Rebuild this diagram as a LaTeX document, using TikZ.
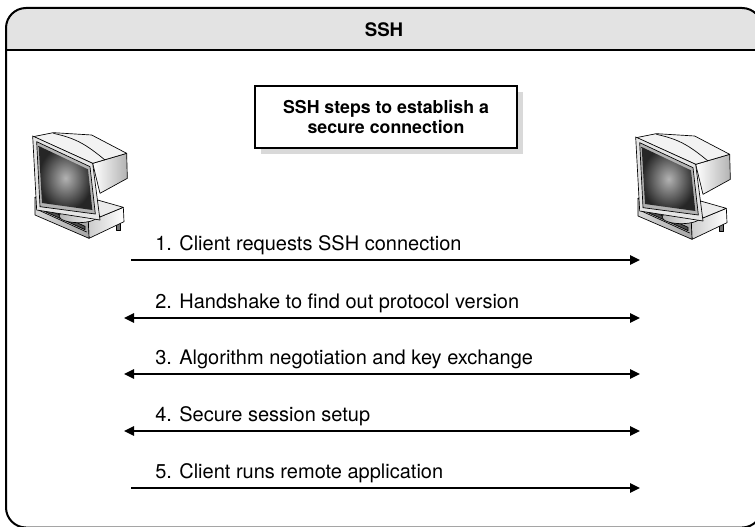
\documentclass[tikz,border=0pt]{standalone}
\usepackage{fontspec}
\setmainfont{TeX Gyre Heros}
\usetikzlibrary{arrows.meta,shadows}

\begin{document}
\begin{tikzpicture}[x=0.75pt, y=-0.75pt, >={Triangle[length=7.5pt,width=7pt]},
  cadre/.style={line width=1.5pt, rounded corners=15pt},
  titre/.style={draw=black, line width=1.5pt, fill=white, align=center,
    font=\bfseries\fontsize{13.3}{15.5}\selectfont,
    minimum width=196pt, minimum height=47pt,
    general shadow={fill=black!15, shadow xshift=4.5pt, shadow yshift=-4.5pt}},
  fleche/.style={line width=1.3pt},
  etiquette/.style={anchor=base west, inner sep=0pt, font=\fontsize{15}{17}\selectfont},
  ordi/.pic={
    \begin{scope}[x=0.25pt, y=-0.25pt, line width=0.5pt, line join=round]
    % le boîtier
    \filldraw[fill=black!55] (290,340) rectangle (302,362);
    \shadedraw[left color=black!20, right color=white] (205,335) -- (310,292) -- (312,335) -- (207,385) -- cycle;
    \filldraw[fill=black!8] (45,262) -- (120,238) -- (310,292) -- (205,335) -- cycle;
    \shadedraw[left color=black!15, right color=black!35] (45,262) -- (205,335) -- (207,385) -- (45,315) -- cycle;
    \filldraw[fill=black!70] (60,288) -- (122,316) -- (122,326) -- (60,298) -- cycle;
    \filldraw[fill=black!70] (132,320) -- (195,349) -- (195,359) -- (132,330) -- cycle;
    \draw (55,300) -- (200,366);
    % le pied
    \shadedraw[left color=black!30, right color=white] (175,318) ellipse [x radius=58, y radius=20];
    % le moniteur
    \shadedraw[left color=white, right color=black!30] (218,160) -- (320,130) -- (322,205) -- (240,250) -- cycle;
    \filldraw[fill=black!5] (40,80) -- (100,68) -- (215,75) -- (320,130) -- (218,160) -- cycle;
    \draw (100,70) .. controls (170,85) and (200,105) .. (255,150);
    \filldraw[fill=black!10] (38,78) -- (218,160) -- (240,330) -- (50,300) -- cycle;
    \filldraw[fill=black!30] (50,95) -- (210,170) -- (226,312) -- (60,290) -- cycle;
    \shade[inner color=black!30, outer color=black!85] (56,108) -- (204,178) -- (217,300) -- (66,279) -- cycle;
    \end{scope}
  }]

\useasboundingbox (0,0) rectangle (755,527);
\clip (0,0) rectangle (755,527);

% Le cadre et son bandeau
\fill[black!11] (6,50) [rounded corners=15pt] -- (6,8) -- (762,8) [sharp corners] -- (762,50) -- cycle;
\draw[cadre] (6,8) rectangle (762,527.5);
\draw[line width=1.5pt] (6,50) -- (762,50);
\node[font=\bfseries\fontsize{14}{16}\selectfont] (entete) at (384,30) {SSH};

% Le titre
\node[titre] (etapes) at (386,117) {SSH steps to establish a\\secure connection};

% Les deux postes
\pic (client) at (20,110) {ordi};
\pic (serveur) at (623,111) {ordi};

% Les extrémités des flèches
\foreach \i/\x/\y in {1/131/260,2/124/318,3/124/374,4/124/431,5/131/488} {
  \coordinate (g\i) at (\x,\y);
  \coordinate (d\i) at (640,\y);
}

% Les flèches
\draw[fleche, ->] (g1) -- (d1);
\foreach \i in {2,3,4}
\draw[fleche, <->] (g\i) -- (d\i);
\draw[fleche, ->] (g5) -- (d5);

% Les étapes
\foreach \i/\y/\txt in {1/250/{1. Client requests SSH connection},
  2/308/{2. Handshake to find out protocol version},
  3/364/{3. Algorithm negotiation and key exchange},
  4/421/{4. Secure session setup},
  5/478/{5. Client runs remote application}}
\node[etiquette] (t\i) at (155,\y) {\txt};

\end{tikzpicture}
\end{document}
